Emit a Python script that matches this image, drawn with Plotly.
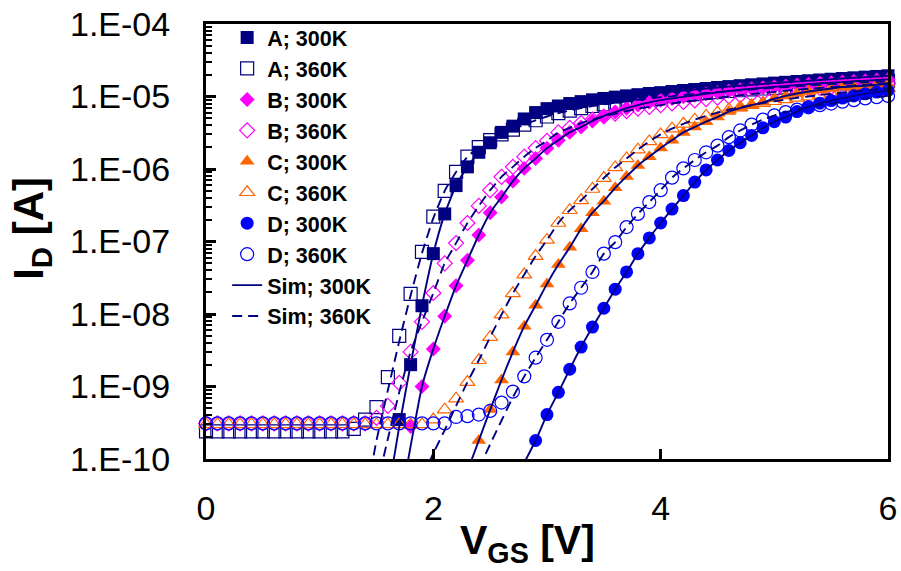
import plotly.graph_objects as go

# ---------------- data ----------------
V = [0.0, 0.1, 0.2, 0.3, 0.4, 0.5, 0.6, 0.7, 0.8, 0.9,
     1.0, 1.1, 1.2, 1.3, 1.4, 1.5, 1.6, 1.7, 1.8, 1.9,
     2.0, 2.1, 2.2, 2.3, 2.4, 2.5, 2.6, 2.7, 2.8, 2.9,
     3.0, 3.1, 3.2, 3.3, 3.4, 3.5, 3.6, 3.7, 3.8, 3.9,
     4.0, 4.1, 4.2, 4.3, 4.4, 4.5, 4.6, 4.7, 4.8, 4.9,
     5.0, 5.1, 5.2, 5.3, 5.4, 5.5, 5.6, 5.7, 5.8, 5.9,
     6.0]

N = None
A_300K = [N]*10 + \
    [N, N, N, N, N, N, N, 3.5e-10, 2.0e-9, 1.3e-8] + \
    [6.8e-8, 2.4e-7, 5.9e-7, 1.07e-6, 1.7e-6, 2.3e-6, 3.2e-6, 3.9e-6, 4.9e-6, 6.0e-6] + \
    [6.8e-6, 7.4e-6, 8.0e-6, 8.5e-6, 9.0e-6, 9.4e-6, 9.8e-6, 1.02e-5, 1.06e-5, 1.10e-5] + \
    [1.13e-5, 1.17e-5, 1.21e-5, 1.25e-5, 1.29e-5, 1.33e-5, 1.37e-5, 1.41e-5, 1.45e-5, 1.49e-5] + \
    [1.53e-5, 1.57e-5, 1.61e-5, 1.65e-5, 1.69e-5, 1.73e-5, 1.77e-5, 1.81e-5, 1.85e-5, 1.89e-5] + \
    [1.93e-5]

A_360K = [2.4e-10]*10 + \
    [2.4e-10, 2.4e-10, 2.4e-10, 2.6e-10, 3.5e-10, 5.2e-10, 1.35e-9, 5.0e-9, 1.9e-8, 7.2e-8] + \
    [2.2e-7, 5.0e-7, 9.1e-7, 1.48e-6, 2.0e-6, 2.5e-6, 3.0e-6, 3.5e-6, 4.1e-6, 4.7e-6] + \
    [5.3e-6, 5.9e-6, 6.4e-6, 6.9e-6, 7.4e-6, 7.8e-6, 8.2e-6, 8.6e-6, 9.0e-6, 9.4e-6] + \
    [9.8e-6, 1.01e-5, 1.05e-5, 1.08e-5, 1.12e-5, 1.15e-5, 1.19e-5, 1.22e-5, 1.25e-5, 1.29e-5] + \
    [1.32e-5, 1.35e-5, 1.38e-5, 1.42e-5, 1.45e-5, 1.48e-5, 1.51e-5, 1.54e-5, 1.57e-5, 1.60e-5] + \
    [1.63e-5]

B_300K = [N]*10 + \
    [N, N, N, N, N, N, N, N, 2.8e-10, 1.0e-9] + \
    [3.3e-9, 9.3e-9, 2.45e-8, 5.5e-8, 1.23e-7, 2.5e-7, 4.1e-7, 6.8e-7, 1.02e-6, 1.4e-6] + \
    [1.94e-6, 2.5e-6, 3.2e-6, 3.8e-6, 4.6e-6, 5.4e-6, 6.1e-6, 6.9e-6, 7.6e-6, 8.3e-6] + \
    [8.9e-6, 9.4e-6, 9.9e-6, 1.04e-5, 1.09e-5, 1.14e-5, 1.19e-5, 1.24e-5, 1.28e-5, 1.32e-5] + \
    [1.36e-5, 1.40e-5, 1.44e-5, 1.48e-5, 1.52e-5, 1.55e-5, 1.58e-5, 1.62e-5, 1.65e-5, 1.69e-5] + \
    [1.72e-5]

B_360K = [3.1e-10]*10 + \
    [3.1e-10, 3.1e-10, 3.1e-10, 3.1e-10, 3.1e-10, 3.7e-10, 5.4e-10, 1.12e-9, 3.0e-9, 7.8e-9] + \
    [1.95e-8, 5.0e-8, 9.5e-8, 1.8e-7, 3.1e-7, 5.1e-7, 7.8e-7, 1.07e-6, 1.48e-6, 1.95e-6] + \
    [2.45e-6, 3.2e-6, 3.7e-6, 4.3e-6, 4.8e-6, 5.3e-6, 5.8e-6, 6.3e-6, 6.8e-6, 7.2e-6] + \
    [7.6e-6, 8.0e-6, 8.4e-6, 8.8e-6, 9.2e-6, 9.6e-6, 1.0e-5, 1.04e-5, 1.08e-5, 1.12e-5] + \
    [1.16e-5, 1.2e-5, 1.24e-5, 1.28e-5, 1.31e-5, 1.35e-5, 1.38e-5, 1.42e-5, 1.45e-5, 1.49e-5] + \
    [1.52e-5]

C_300K = [N]*20 + \
    [N, N, N, N, 1.8e-10, 4.8e-10, 1.23e-9, 3.0e-9, 6.8e-9, 1.32e-8] + \
    [2.6e-8, 4.8e-8, 8.3e-8, 1.5e-7, 2.5e-7, 3.6e-7, 5.5e-7, 7.9e-7, 1.12e-6, 1.48e-6] + \
    [1.95e-6, 2.5e-6, 3.2e-6, 3.8e-6, 4.5e-6, 5.2e-6, 6.2e-6, 6.9e-6, 7.6e-6, 8.3e-6] + \
    [9.3e-6, 1.02e-5, 1.1e-5, 1.17e-5, 1.23e-5, 1.29e-5, 1.35e-5, 1.38e-5, 1.41e-5, 1.45e-5] + \
    [1.48e-5]

C_360K = [3.0e-10]*20 + \
    [3.5e-10, 4.8e-10, 6.8e-10, 1.15e-9, 2.3e-9, 4.8e-9, 9.8e-9, 1.93e-8, 3.5e-8, 6.3e-8] + \
    [1.05e-7, 1.8e-7, 2.7e-7, 3.7e-7, 5.3e-7, 7.5e-7, 1.05e-6, 1.4e-6, 1.85e-6, 2.4e-6] + \
    [3.0e-6, 3.6e-6, 4.2e-6, 4.8e-6, 5.4e-6, 6.0e-6, 6.6e-6, 7.1e-6, 7.6e-6, 8.1e-6] + \
    [8.6e-6, 9.1e-6, 9.6e-6, 1.0e-5, 1.05e-5, 1.09e-5, 1.13e-5, 1.17e-5, 1.21e-5, 1.25e-5] + \
    [1.29e-5]

D_300K = [N]*29 + [1.8e-10] + \
    [4.1e-10, 8.3e-10, 1.73e-9, 3.5e-9, 6.6e-9, 1.2e-8, 2.2e-8, 3.8e-8, 6.8e-8, 1.12e-7] + \
    [1.8e-7, 2.8e-7, 4.3e-7, 6.6e-7, 9.7e-7, 1.33e-6, 1.8e-6, 2.3e-6, 2.9e-6, 3.7e-6] + \
    [4.5e-6, 5.2e-6, 6.2e-6, 7.2e-6, 8.1e-6, 8.8e-6, 9.5e-6, 1.02e-5, 1.09e-5, 1.15e-5] + \
    [1.21e-5]

D_360K = [3.1e-10]*22 + \
    [3.8e-10, 3.9e-10, 4.1e-10, 4.6e-10, 6.0e-10, 8.5e-10, 1.38e-9, 2.5e-9] + \
    [4.4e-9, 7.8e-9, 1.4e-8, 2.3e-8, 3.8e-8, 6.8e-8, 9.8e-8, 1.58e-7, 2.4e-7, 3.5e-7] + \
    [5.1e-7, 7.6e-7, 1.02e-6, 1.33e-6, 1.7e-6, 2.1e-6, 2.75e-6, 3.4e-6, 4.1e-6, 4.8e-6] + \
    [5.5e-6, 6.1e-6, 6.6e-6, 7.1e-6, 7.6e-6, 8.0e-6, 8.5e-6, 8.9e-6, 9.4e-6, 9.8e-6] + \
    [1.02e-5]

# simulated curves: sub-threshold part below the measurement floor,
# then they follow the measured curves
SIM_LOW = {
    ("A", "300K"): ([1.6, 1.7], [3.2e-11, 2.8e-10]),
    ("B", "300K"): ([1.7, 1.8], [2.0e-11, 1.5e-10]),
    ("C", "300K"): ([2.3], [6.8e-11]),
    ("D", "300K"): ([2.8], [8.9e-11]),
    ("A", "360K"): ([1.4, 1.5, 1.6, 1.7, 1.8, 1.9, 2.0],
                    [2.5e-11, 1.8e-10, 8.9e-10, 4.2e-9, 1.8e-8, 6.9e-8, 2.1e-7]),
    ("B", "360K"): ([1.5, 1.6, 1.7], [4.0e-11, 1.9e-10, 8.3e-10]),
    ("C", "360K"): ([1.9, 2.0, 2.1, 2.2], [5.4e-11, 1.2e-10, 2.5e-10, 5.4e-10]),
    ("D", "360K"): ([2.4, 2.5, 2.6, 2.7], [7.4e-11, 1.6e-10, 3.4e-10, 7.1e-10]),
}

Y_TICKS = [1e-10, 1e-9, 1e-8, 1e-7, 1e-6, 1e-5, 1e-4]
Y_TICKTEXT = ["1.E-10", "1.E-09", "1.E-08", "1.E-07", "1.E-06", "1.E-05", "1.E-04"]
X_TICKS = [0, 2, 4, 6]

SERIES = [
    ("A", "300K", A_300K), ("A", "360K", A_360K),
    ("B", "300K", B_300K), ("B", "360K", B_360K),
    ("C", "300K", C_300K), ("C", "360K", C_360K),
    ("D", "300K", D_300K), ("D", "360K", D_360K),
]

# ---------------- styles ----------------
COLORS = {"A": "#000080", "B": "#FF00FF", "C": "#FF6600", "D": "#0000FF"}
SYMBOLS = {"A": "square", "B": "diamond", "C": "triangle-up", "D": "circle"}
SIZES = {"A": 13, "B": 11.5, "C": 13, "D": 13}
SIM_COLOR = "#000080"
FONT = "Arial, Liberation Sans, sans-serif"

fig = go.Figure()

for dev, temp, vals in SERIES:
    xs = [v for v, i in zip(V, vals) if i is not None]
    ys = [i for i in vals if i is not None]
    filled = temp == "300K"
    sym = SYMBOLS[dev] if filled else SYMBOLS[dev] + "-open"
    fig.add_trace(go.Scatter(
        x=xs, y=ys, mode="markers", name="<b>%s; %s</b>" % (dev, temp),
        legendgroup=dev + temp, cliponaxis=False,
        marker=dict(symbol=sym, size=SIZES[dev], color=COLORS[dev],
                    line=dict(width=1.2 if not filled else 0, color=COLORS[dev])),
    ))

data_map = {(d, t): v for d, t, v in SERIES}
first = {"300K": True, "360K": True}
for temp in ["300K", "360K"]:
    for dev in ["A", "B", "C", "D"]:
        lv, li = SIM_LOW[(dev, temp)]
        vals = data_map[(dev, temp)]
        xs = list(lv) + [v for v, i in zip(V, vals) if i is not None and v > lv[-1] + 1e-9]
        ys = list(li) + [i for v, i in zip(V, vals) if i is not None and v > lv[-1] + 1e-9]
        fig.add_trace(go.Scatter(
            x=xs, y=ys, mode="lines", name="<b>Sim; %s</b>" % temp,
            legendgroup="sim" + temp, showlegend=first[temp],
            line=dict(color=SIM_COLOR, width=1.9,
                      dash="solid" if temp == "300K" else "10px,6px",
                      shape="spline", smoothing=0.5),
        ))
        first[temp] = False

fig.update_layout(
    width=901, height=571,
    margin=dict(l=206, r=13, t=24, b=112),
    plot_bgcolor="white", paper_bgcolor="white",
    font=dict(family=FONT, color="black"),
    legend=dict(x=0.031, y=1.016, xanchor="left", yanchor="top",
                bgcolor="rgba(0,0,0,0)", font=dict(size=21.5, family=FONT, color="black"),
                tracegroupgap=0, itemwidth=30, maxheight=1.0),
    annotations=[
        dict(text="<b>V<sub>GS</sub> [V]</b>", xref="paper", yref="paper",
             x=0.472, y=-0.192, xanchor="center", yanchor="middle", showarrow=False,
             font=dict(size=41, family=FONT, color="black")),
        dict(text="<b>I<sub>D</sub> [A]</b>", xref="paper", yref="paper",
             x=-0.256, y=0.53, xanchor="center", yanchor="middle", showarrow=False,
             textangle=-90, font=dict(size=42, family=FONT, color="black")),
    ],
)

fig.update_xaxes(
    range=[0, 6], tickvals=X_TICKS, ticks="inside", ticklen=10, tickwidth=3,
    tickcolor="black", showline=True, linewidth=3, linecolor="black", mirror=True,
    showgrid=False, zeroline=False, tickfont=dict(size=34, family=FONT, color="black"),
    ticklabelstandoff=17, automargin=False,
)
fig.update_yaxes(
    type="log", range=[-10, -4], tickvals=Y_TICKS, ticktext=Y_TICKTEXT,
    ticks="inside", ticklen=10, tickwidth=3, tickcolor="black",
    showline=True, linewidth=3, linecolor="black", mirror=True,
    showgrid=False, zeroline=False, tickfont=dict(size=34, family=FONT, color="black"),
    ticklabelstandoff=26, automargin=False,
    minor=dict(ticks="inside", ticklen=6, tickwidth=2, tickcolor="black",
               dtick="D1", showgrid=False),
)

fig.write_html("out.html")
